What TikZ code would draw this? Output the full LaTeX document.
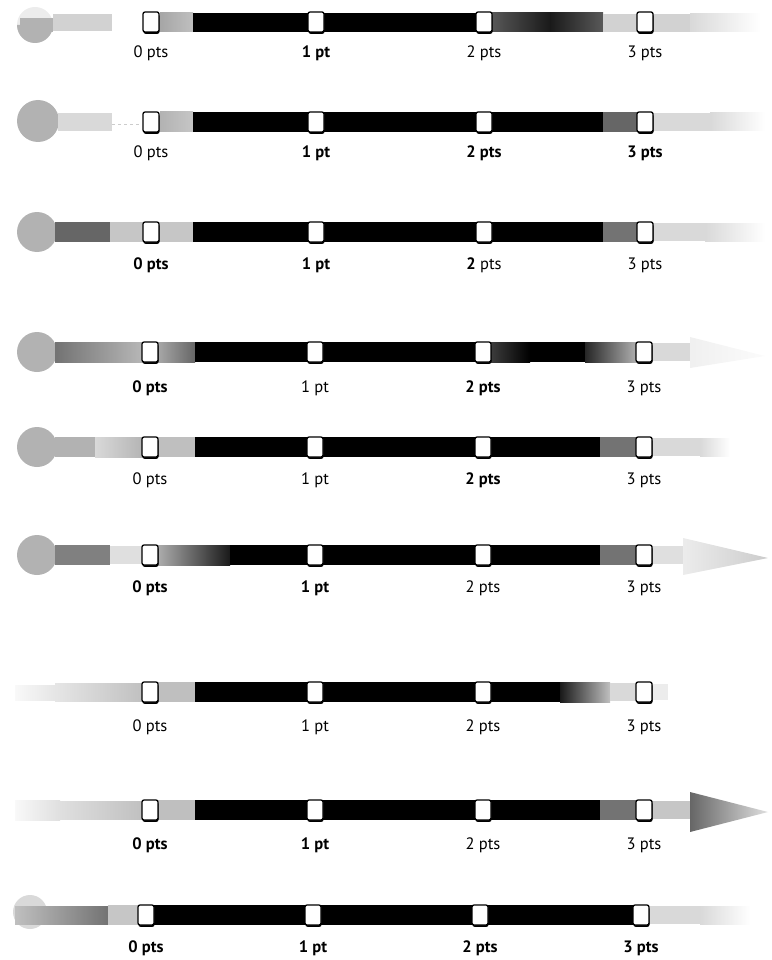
\documentclass[tikz,border=0pt]{standalone}
\usepackage{fontspec}
\setmainfont{PT Sans}
\usetikzlibrary{shadows}
\begin{document}
\begin{tikzpicture}[x=1pt,y=-1pt,
  mk/.style={draw=black, line width=1.3pt, fill=white, rounded corners=2pt,
    minimum width=16pt, minimum height=20pt, inner sep=0pt,
    drop shadow={shadow xshift=0.5pt, shadow yshift=-1.8pt, opacity=1, fill=black}},
  lbl/.style={font=\fontsize{16.5}{19}\selectfont, inner sep=0pt},
  fadeR/.style={left color=gray!30, right color=white},
]
\useasboundingbox (0,0) rectangle (771,960);

\newcommand\rowmarks[4]{% #1 id, #2 bar y, #3 label y, #4 list
  \foreach \i/\x/\t in {#4} {
    \node[mk] (#1s\i) at (\x,#2) {};
    \node[lbl] (#1l\i) at (\x,#3) {\t};
  }
}

% ===== Row 1 (y=22) =====
\fill[gray!15] (35,25) circle (18pt);
\fill[gray!60] (17,25) arc (180:360:18pt) -- cycle;
\fill[gray!60] (20,18) rectangle (53,32);
\fill[gray!35] (53,14) rectangle (112,31);
\shade[left color=gray!70, right color=gray!50] (160,13) rectangle (193,32);
\fill[black] (193,13) rectangle (490,32);
\shade[left color=black!65, right color=black!90] (490,13) rectangle (550,32);
\shade[left color=black!90, right color=black!65] (550,13) rectangle (603,32);
\fill[gray!35] (603,14) rectangle (640,32);
\fill[gray!35] (650,14) rectangle (690,32);
\shade[fadeR] (690,14) rectangle (760,32);
\rowmarks{a}{22}{53}{0/151/{0 pts},1/316/{\textbf{1 pt}},2/484/{2 pts},3/645/{3 pts}}

% ===== Row 2 (y=122) =====
\fill[gray!60] (38,121) circle (21pt);
\fill[gray!30] (58,113) rectangle (112,131);
\draw[gray!40, dashed] (112,124) -- (140,124);
\shade[left color=gray!60, right color=gray!45] (160,112) rectangle (193,132);
\fill[black] (193,112) rectangle (603,132);
\fill[black!60] (603,112) rectangle (640,132);
\fill[gray!30] (650,113) rectangle (710,131);
\shade[fadeR] (710,113) rectangle (765,131);
\rowmarks{b}{122}{153}{0/151/{0 pts},1/316/{\textbf{1 pt}},2/484/{\textbf{2 pts}},3/645/{\textbf{3 pts}}}

% ===== Row 3 (y=232) =====
\fill[gray!60] (37,232) circle (20pt);
\fill[black!60] (55,222) rectangle (110,242);
\fill[gray!45] (110,222) rectangle (145,242);
\fill[gray!45] (155,222) rectangle (193,242);
\fill[black] (193,222) rectangle (603,242);
\fill[black!55] (603,222) rectangle (640,242);
\fill[gray!30] (650,223) rectangle (705,241);
\shade[fadeR] (705,223) rectangle (765,241);
\rowmarks{c}{232}{265}{0/151/{\textbf{0 pts}},1/316/{\textbf{1 pt}},2/484/{\textbf{2} pts},3/645/{3 pts}}

% ===== Row 4 (y=352) =====
\fill[gray!60] (37,352) circle (20pt);
\shade[left color=black!55, right color=gray!55] (55,342) rectangle (145,362);
\shade[left color=gray!65, right color=black!60] (155,342) rectangle (195,362);
\fill[black] (195,342) rectangle (480,362);
\shade[left color=black!70, right color=black] (480,342) rectangle (530,362);
\fill[black] (530,342) rectangle (585,362);
\shade[left color=black!85, right color=gray!55] (585,342) rectangle (640,362);
\fill[gray!30] (650,343) rectangle (695,361);
\shade[left color=gray!12, right color=gray!3] (690,337) -- (765,356) -- (690,368) -- cycle;
\rowmarks{d}{352}{388}{0/150/{\textbf{0 pts}},1/315/{1 pt},2/483/{\textbf{2 pts}},3/644/{3 pts}}

% ===== Row 5 (y=447) =====
\fill[gray!60] (37,447) circle (20pt);
\fill[gray!60] (55,437) rectangle (95,457);
\shade[left color=gray!30, right color=gray!60] (95,437) rectangle (145,457);
\fill[gray!50] (155,437) rectangle (195,457);
\fill[black] (195,437) rectangle (600,457);
\fill[black!55] (600,437) rectangle (640,457);
\fill[gray!30] (650,438) rectangle (700,456);
\shade[fadeR] (700,438) rectangle (730,456);
\rowmarks{e}{447}{480}{0/150/{0 pts},1/315/{1 pt},2/483/{\textbf{2 pts}},3/644/{3 pts}}

% ===== Row 6 (y=555) =====
\fill[gray!60] (37,555) circle (20pt);
\fill[black!50] (55,545) rectangle (110,565);
\fill[gray!25] (110,546) rectangle (145,564);
\shade[left color=gray!60, right color=black!90] (155,545) rectangle (230,565);
\fill[black] (230,545) rectangle (600,565);
\fill[black!55] (600,545) rectangle (640,565);
\fill[gray!25] (650,546) rectangle (690,564);
\shade[left color=gray!15, right color=gray!40] (683,538) -- (768,558) -- (683,575) -- cycle;
\rowmarks{f}{555}{588}{0/150/{\textbf{0 pts}},1/315/{\textbf{1 pt}},2/483/{2 pts},3/644/{3 pts}}

% ===== Row 7 (y=692) =====
\shade[left color=gray!5, right color=gray!20] (15,685) rectangle (55,700);
\shade[left color=gray!20, right color=gray!50] (55,683) rectangle (145,701);
\fill[gray!50] (155,682) rectangle (195,702);
\fill[black] (195,682) rectangle (560,702);
\shade[left color=black!90, right color=gray!50] (560,682) rectangle (610,702);
\fill[gray!30] (610,683) rectangle (640,701);
\fill[gray!15] (650,684) rectangle (668,700);
\rowmarks{g}{692}{727}{0/150/{0 pts},1/315/{1 pt},2/483/{2 pts},3/644/{3 pts}}

% ===== Row 8 (y=810) =====
\shade[left color=gray!5, right color=gray!25] (15,800) rectangle (60,820);
\shade[left color=gray!25, right color=gray!50] (60,801) rectangle (145,819);
\fill[gray!50] (155,800) rectangle (195,820);
\fill[black] (195,800) rectangle (600,820);
\fill[black!55] (600,800) rectangle (640,820);
\fill[gray!45] (650,801) rectangle (690,819);
\shade[left color=black!60, right color=gray!25] (690,792) -- (768,812) -- (690,832) -- cycle;
\rowmarks{h}{810}{845}{0/150/{\textbf{0 pts}},1/315/{\textbf{1 pt}},2/483/{2 pts},3/644/{3 pts}}

% ===== Row 9 (y=915) =====
\fill[gray!30] (30,912) circle (17pt);
\shade[left color=gray!50, right color=black!55] (15,906) rectangle (108,924);
\fill[gray!45] (108,905) rectangle (140,925);
\fill[black] (140,905) rectangle (640,925);
\fill[gray!30] (650,906) rectangle (700,924);
\shade[fadeR] (700,906) rectangle (750,924);
\rowmarks{i}{915}{948}{0/146/{\textbf{0 pts}},1/313/{\textbf{1 pt}},2/480/{\textbf{2 pts}},3/641/{\textbf{3 pts}}}

\end{tikzpicture}
\end{document}
